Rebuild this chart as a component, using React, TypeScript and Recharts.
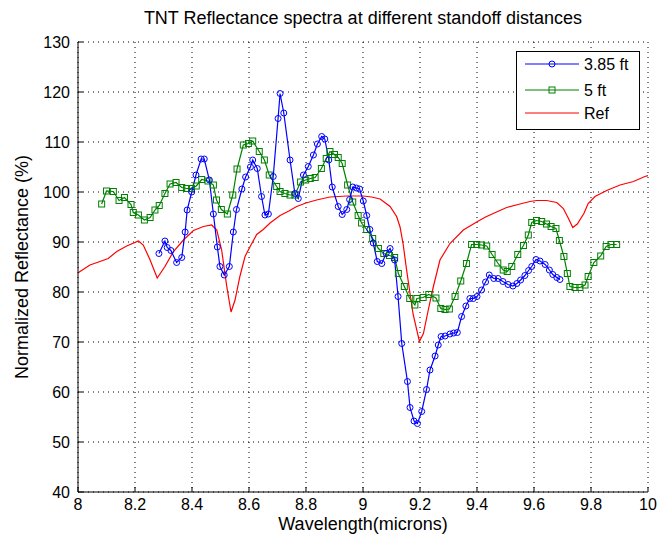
import React from 'react';
import { LineChart, Line, XAxis, YAxis, CartesianGrid, Legend } from 'recharts';

const FONT = '"Liberation Sans", Arial, sans-serif';

const title = 'TNT Reflectance spectra at different standoff distances';
const xLabel = 'Wavelength(microns)';
const yLabel = 'Normalized Reflectance (%)';

const xTicks = [8, 8.2, 8.4, 8.6, 8.8, 9, 9.2, 9.4, 9.6, 9.8, 10];
const yTicks = [40, 50, 60, 70, 80, 90, 100, 110, 120, 130];

const seriesNames = ['3.85 ft', '5 ft', 'Ref'];
const seriesColors = ['#0000FF', '#008000', '#FF0000'];

// 3.85 ft
const blueX = [
  8.284, 8.305, 8.313, 8.326, 8.346, 8.364, 8.376, 8.383, 8.399, 8.414,
  8.432, 8.443, 8.461, 8.475, 8.489, 8.498, 8.513, 8.531, 8.545, 8.556,
  8.575, 8.588, 8.605, 8.613, 8.629, 8.644, 8.656, 8.668, 8.685, 8.702,
  8.709, 8.722, 8.744, 8.761, 8.773, 8.791, 8.808, 8.826, 8.84, 8.855,
  8.866, 8.88, 8.892, 8.913, 8.927, 8.943, 8.953, 8.964, 8.977, 8.988,
  9.001, 9.013, 9.024, 9.036, 9.05, 9.066, 9.081, 9.095, 9.111, 9.123,
  9.136, 9.156, 9.165, 9.179, 9.191, 9.206, 9.223, 9.235, 9.253, 9.264,
  9.274, 9.288, 9.305, 9.318, 9.331, 9.346, 9.361, 9.375, 9.387, 9.4,
  9.416, 9.43, 9.443, 9.459, 9.474, 9.491, 9.509, 9.526, 9.54, 9.553,
  9.568, 9.581, 9.592, 9.607, 9.621, 9.639, 9.654, 9.666, 9.68, 9.691,
];
const blueY = [
  87.7, 90.2, 88.9, 88.3, 85.9, 86.9, 92.0, 96.4, 100.0, 103.4,
  106.6, 106.6, 102.4, 95.6, 89.0, 85.1, 83.4, 85.1, 92.0, 96.5,
  100.6, 103.0, 105.0, 106.4, 104.7, 99.1, 95.4, 95.6, 103.1, 114.7,
  119.7, 115.8, 106.4, 99.7, 98.7, 103.4, 105.1, 107.4, 109.6, 111.1,
  110.6, 106.4, 101.0, 97.1, 95.5, 96.5, 98.5, 101.0, 100.8, 100.6,
  98.2, 95.3, 92.5, 89.8, 86.1, 85.7, 87.7, 88.7, 86.4, 79.1,
  69.7, 62.1, 56.9, 54.2, 53.7, 56.1, 60.5, 64.4, 67.2, 69.4,
  71.1, 71.2, 71.6, 71.8, 71.9, 75.1, 77.2, 78.7, 78.7, 79.1,
  80.4, 82.0, 83.4, 82.7, 82.7, 82.1, 81.5, 81.2, 81.7, 82.4,
  83.3, 84.3, 85.1, 86.5, 86.2, 85.5, 84.4, 83.5, 82.9, 82.5,
];

// 5 ft
const greenX = [
  8.083, 8.1, 8.124, 8.144, 8.163, 8.186, 8.194, 8.212, 8.233, 8.253,
  8.27, 8.285, 8.305, 8.323, 8.344, 8.364, 8.381, 8.398, 8.415, 8.434,
  8.456, 8.475, 8.486, 8.503, 8.524, 8.543, 8.558, 8.58, 8.598, 8.613,
  8.636, 8.654, 8.671, 8.697, 8.709, 8.726, 8.744, 8.761, 8.781, 8.799,
  8.815, 8.832, 8.854, 8.871, 8.884, 8.9, 8.913, 8.927, 8.946, 8.964,
  8.983, 8.995, 9.013, 9.034, 9.054, 9.073, 9.093, 9.111, 9.124, 9.145,
  9.164, 9.182, 9.189, 9.211, 9.231, 9.256, 9.273, 9.288, 9.303, 9.323,
  9.343, 9.363, 9.381, 9.399, 9.416, 9.434, 9.453, 9.473, 9.492, 9.506,
  9.522, 9.543, 9.563, 9.58, 9.592, 9.609, 9.627, 9.644, 9.66, 9.677,
  9.689, 9.705, 9.717, 9.726, 9.744, 9.761, 9.779, 9.79, 9.81, 9.834,
  9.853, 9.87, 9.89,
];
const greenY = [
  97.6, 100.2, 100.1, 98.3, 98.9, 97.5, 95.9, 95.4, 94.4, 94.9,
  96.4, 97.3, 99.7, 101.6, 101.9, 100.9, 100.7, 100.7, 101.2, 102.5,
  102.2, 101.4, 98.4, 96.5, 95.6, 99.4, 104.6, 109.4, 109.7, 110.2,
  108.1, 106.4, 103.4, 101.1, 100.1, 99.7, 99.4, 99.4, 102.0, 102.4,
  102.7, 102.9, 104.7, 106.7, 108.1, 107.5, 106.9, 105.7, 101.4, 98.0,
  95.3, 93.8, 92.5, 90.7, 88.7, 87.7, 87.3, 86.9, 83.7, 81.1,
  78.7, 77.4, 78.7, 78.9, 79.5, 78.8, 76.7, 76.5, 76.6, 79.1,
  82.2, 85.7, 89.5, 89.5, 89.4, 89.2, 87.5, 85.8, 84.4, 84.1,
  85.1, 87.5, 89.3, 91.4, 93.9, 94.3, 94.1, 93.6, 93.1, 92.7,
  90.3, 87.1, 83.7, 81.1, 80.9, 80.9, 81.4, 83.1, 85.9, 87.2,
  89.1, 89.5, 89.5,
];

// Ref
const redX = [
  8.0, 8.007, 8.042, 8.077, 8.106, 8.136, 8.171, 8.212, 8.229, 8.253,
  8.278, 8.305, 8.335, 8.37, 8.405, 8.44, 8.469, 8.487, 8.504, 8.522,
  8.537, 8.551, 8.568, 8.586, 8.604, 8.627, 8.65, 8.674, 8.709, 8.74,
  8.767, 8.8, 8.837, 8.884, 8.943, 9.001, 9.03, 9.06, 9.095, 9.118,
  9.13, 9.141, 9.153, 9.165, 9.176, 9.198, 9.212, 9.229, 9.247, 9.27,
  9.305, 9.352, 9.399, 9.43, 9.457, 9.504, 9.551, 9.586, 9.609, 9.644,
  9.68, 9.703, 9.721, 9.736, 9.752, 9.775, 9.79, 9.814, 9.855, 9.902,
  9.949, 9.989, 10.0,
];
const redY = [
  83.8, 84.1, 85.4, 86.1, 86.7, 88.1, 89.2, 90.2, 89.4, 86.4,
  82.8, 85.1, 88.1, 90.4, 92.3, 93.1, 93.4, 92.4, 88.4, 81.1,
  76.0, 78.4, 83.1, 87.1, 89.1, 91.5, 92.5, 93.8, 95.3, 96.2,
  97.1, 97.8, 98.4, 99.0, 99.2, 99.2, 99.0, 98.6, 97.1, 95.1,
  93.0, 89.5, 84.4, 79.7, 75.5, 70.1, 71.7, 76.4, 81.1, 86.4,
  89.7, 92.4, 94.0, 95.0, 95.7, 96.9, 97.6, 98.1, 98.3, 98.3,
  97.9, 96.7, 94.7, 92.9, 93.6, 95.7, 97.7, 99.1, 100.3, 101.4,
  102.1, 103.1, 103.3,
];

const zip = (xs: number[], ys: number[]) => xs.map((x, i) => ({ x, y: ys[i] }));
const blueData = zip(blueX, blueY);
const greenData = zip(greenX, greenY);
const redData = zip(redX, redY);

const CircleDot = (props: any) => {
  const { cx, cy, index } = props;
  if (cx == null || cy == null) return <g key={`c${index}`} />;
  return <circle key={`c${index}`} cx={cx} cy={cy} r={3} fill="none" stroke={seriesColors[0]} strokeWidth={1} />;
};
const SquareDot = (props: any) => {
  const { cx, cy, index } = props;
  if (cx == null || cy == null) return <g key={`s${index}`} />;
  return <rect key={`s${index}`} x={cx - 3} y={cy - 3} width={6} height={6} fill="none" stroke={seriesColors[1]} strokeWidth={1} />;
};

const LegendBox = () => {
  const rows = [13, 39, 62];
  return (
    <svg width={124} height={80} style={{ display: 'block' }}>
      <rect x={0.5} y={0.5} width={123} height={78} fill="#fff" stroke="#000" strokeWidth={1} />
      {seriesNames.map((name, i) => (
        <g key={name}>
          <line x1={9} x2={63} y1={rows[i]} y2={rows[i]} stroke={seriesColors[i]} strokeWidth={1.2} />
          {i === 0 && <circle cx={36} cy={rows[i]} r={3} fill="none" stroke={seriesColors[i]} />}
          {i === 1 && <rect x={33} y={rows[i] - 3} width={6} height={6} fill="none" stroke={seriesColors[i]} />}
          <text x={68} y={rows[i]} dominantBaseline="central" fontSize={16} fontFamily={FONT} fill="#000">{name}</text>
        </g>
      ))}
    </svg>
  );
};

const YLabel = (props: any) => {
  const vb = props.viewBox || { x: 38, y: 42, width: 40, height: 450 };
  const cx = 22;
  const cy = vb.y + vb.height / 2;
  return (
    <text x={cx} y={cy} transform={`rotate(-90, ${cx}, ${cy})`} textAnchor="middle" dominantBaseline="central"
      fontSize={18} fontFamily={FONT} fill="#000">{yLabel}</text>
  );
};

export default function App() {
  const tickStyle = { fontSize: 16, fontFamily: FONT, fill: '#000' };
  return (
    <div style={{ position: 'absolute', left: 0, top: 0, width: 664, height: 539, background: '#fff' }}>
      <div
        style={{
          position: 'absolute', left: 78, top: 8, width: 570, textAlign: 'center',
          fontFamily: FONT, fontSize: 18, lineHeight: '20px', color: '#000', zIndex: 2,
        }}
      >
        {title}
      </div>
      <LineChart width={664} height={539} margin={{ top: 42, right: 16, bottom: 27, left: 38 }}>
        <CartesianGrid stroke="#000" strokeDasharray="1 4" strokeWidth={1} />
        <XAxis
          dataKey="x"
          type="number"
          domain={[8, 10]}
          ticks={xTicks}
          allowDataOverflow
          height={20}
          tickSize={-5}
          tickMargin={12}
          stroke="#000"
          tick={tickStyle}
          tickFormatter={(v: number) => String(v)}
          label={{ value: xLabel, position: 'bottom', offset: 5, fontSize: 18, fontFamily: FONT, fill: '#000' }}
        />
        <XAxis
          xAxisId="top"
          orientation="top"
          dataKey="x"
          type="number"
          domain={[8, 10]}
          ticks={xTicks}
          allowDataOverflow
          height={0}
          tickSize={-5}
          tick={false}
          stroke="#000"
        />
        <YAxis
          type="number"
          domain={[40, 130]}
          ticks={yTicks}
          allowDataOverflow
          width={40}
          tickSize={-5}
          tickMargin={13}
          stroke="#000"
          tick={tickStyle}
          label={{ content: YLabel }}
        />
        <YAxis
          yAxisId="right"
          orientation="right"
          type="number"
          domain={[40, 130]}
          ticks={yTicks}
          allowDataOverflow
          width={0}
          tickSize={-5}
          tick={false}
          stroke="#000"
        />
        <Line data={redData} dataKey="y" name={seriesNames[2]} stroke={seriesColors[2]} strokeWidth={1.2} dot={false} isAnimationActive={false} />
        <Line data={greenData} dataKey="y" name={seriesNames[1]} stroke={seriesColors[1]} strokeWidth={1.2} dot={SquareDot} isAnimationActive={false} />
        <Line data={blueData} dataKey="y" name={seriesNames[0]} stroke={seriesColors[0]} strokeWidth={1.2} dot={CircleDot} isAnimationActive={false} />
        <Legend
          layout="vertical"
          align="center"
          verticalAlign="middle"
          content={LegendBox}
          wrapperStyle={{ position: 'absolute', left: 516, top: 51, width: 124, height: 80 }}
        />
      </LineChart>
    </div>
  );
}
